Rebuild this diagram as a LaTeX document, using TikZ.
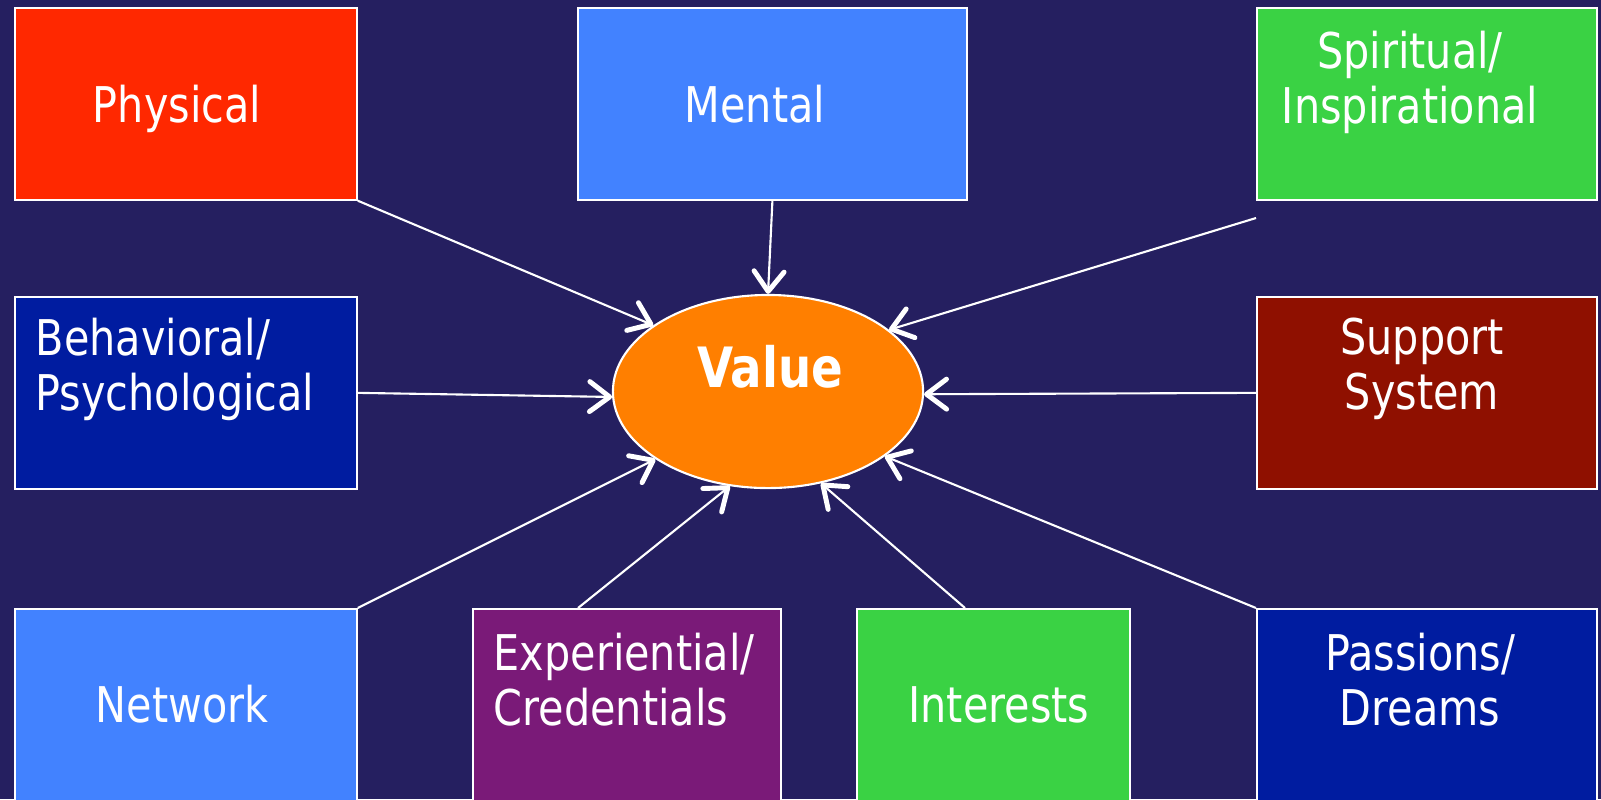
\documentclass[tikz,border=0pt]{standalone}
\usepackage{fontspec}
\setmainfont{DejaVu Sans}[FakeStretch=0.84]
\usetikzlibrary{shapes.geometric,arrows.meta}
\definecolor{bgnavy}{RGB}{37,31,96}
\definecolor{physred}{RGB}{255,40,0}
\definecolor{lightblue}{RGB}{66,130,255}
\definecolor{brightgreen}{RGB}{58,210,68}
\definecolor{deepblue}{RGB}{0,28,160}
\definecolor{deepred}{RGB}{143,16,0}
\definecolor{plum}{RGB}{122,26,120}
\definecolor{valorange}{RGB}{255,127,0}

\begin{document}
\begin{tikzpicture}[x=0.01cm,y=-0.01cm,
        box/.style={rectangle,draw=white,line width=0.45pt,anchor=north west,inner sep=0},
        lbl/.style={text=white,inner sep=0,font=\fontsize{14}{15.6}\selectfont},
        feed/.style={draw=white,line width=0.6pt,
            -{Straight Barb[length=2mm,width=3mm,line width=1.4pt,round]}}]
        \useasboundingbox (0,0) rectangle (1601,799);
        \clip (0,0) rectangle (1601,799);
        \fill[bgnavy] (0,0) rectangle (1601,799);
        % top row
        \node[box,fill=physred,minimum width=3.42cm,minimum height=1.92cm] (phys) at (14,7) {};
        \node[box,fill=lightblue,minimum width=3.89cm,minimum height=1.92cm] (mental) at (577,7) {};
        \node[box,fill=brightgreen,minimum width=3.40cm,minimum height=1.92cm] (spirit) at (1256,7) {};
        % middle row
        \node[box,fill=deepblue,minimum width=3.42cm,minimum height=1.92cm] (behav) at (14,296) {};
        \node[box,fill=deepred,minimum width=3.40cm,minimum height=1.92cm] (support) at (1256,296) {};
        % bottom row
        \node[box,fill=lightblue,minimum width=3.42cm,minimum height=2.2cm] (network) at (14,608) {};
        \node[box,fill=plum,minimum width=3.08cm,minimum height=2.2cm] (exper) at (472,608) {};
        \node[box,fill=brightgreen,minimum width=2.73cm,minimum height=2.2cm] (inter) at (856,608) {};
        \node[box,fill=deepblue,minimum width=3.40cm,minimum height=2.2cm] (passion) at (1256,608) {};
        % centre
        \node[ellipse,draw=white,line width=0.6pt,fill=valorange,inner sep=0,
            minimum width=3.1cm,minimum height=1.93cm] (value) at (768,391.5) {};

        \node[lbl,anchor=base] (physlbl) at (177,122) {Physical};
        \node[lbl,anchor=base] (mentallbl) at (755,122) {Mental};
        \node[lbl,align=center] (spiritlbl) at (1410,82) {Spiritual/\\Inspirational};
        \node[lbl,align=left,anchor=west] (behavlbl) at (35,369) {Behavioral/\\Psychological};
        \node[lbl,align=center] (supportlbl) at (1422,369) {Support\\System};
        \node[lbl,anchor=base] (networklbl) at (182,722) {Network};
        \node[lbl,align=left,anchor=west] (experlbl) at (493,680) {Experiential/\\Credentials};
        \node[lbl,anchor=base] (interlbl) at (999,722) {Interests};
        \node[lbl,align=center] (passionlbl) at (1420,680) {Passions/\\Dreams};
        \node[lbl,anchor=base,font=\fontsize{15.8}{18}\selectfont\bfseries] (valuelbl) at (770,387) {Value};

        \coordinate (spiritfoot) at (1256,218);
        \coordinate (experfoot) at (578,608);
        \coordinate (interfoot) at (965,608);

        \draw[feed] (phys.south east) -- (value.150);
        \draw[feed] (mental.south) -- (value.90);
        \draw[feed] (spiritfoot) -- (value.27);
        \draw[feed] (behav.east) -- (value.182);
        \draw[feed] (support.west) -- (value.-1);
        \draw[feed] (network.north east) -- (value.211);
        \draw[feed] (experfoot) -- (value.248);
        \draw[feed] (interfoot) -- (value.300);
        \draw[feed] (passion.north west) -- (value.331);
    \end{tikzpicture}
\end{document}
